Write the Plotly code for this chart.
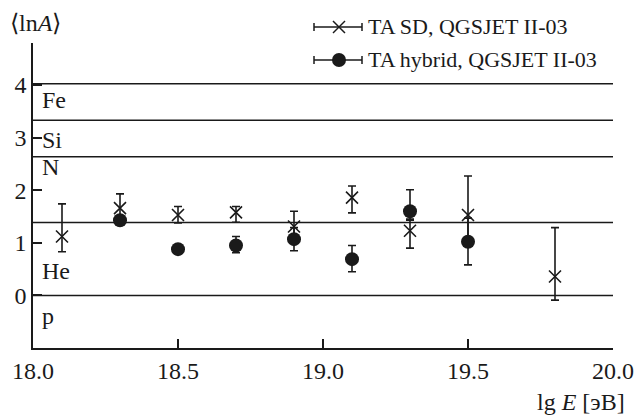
import math
import plotly.graph_objects as go

# ---- data ----
sd_x = [18.1, 18.3, 18.5, 18.7, 18.9, 19.1, 19.3, 19.5, 19.8]
sd_y = [1.12, 1.66, 1.53, 1.58, 1.31, 1.86, 1.23, 1.53, 0.36]
sd_plus = [0.62, 0.27, 0.16, 0.11, 0.29, 0.22, 0.22, 0.74, 0.93]
sd_minus = [0.29, 0.25, 0.15, 0.19, 0.25, 0.29, 0.33, 0.55, 0.45]

hy_x = [18.3, 18.5, 18.7, 18.9, 19.1, 19.3, 19.5]
hy_y = [1.43, 0.88, 0.95, 1.07, 0.69, 1.60, 1.02]
hy_plus = [0.05, 0.03, 0.17, 0.22, 0.26, 0.41, 0.45]
hy_minus = [0.05, 0.03, 0.14, 0.22, 0.24, 0.17, 0.44]

elements = ["p", "He", "N", "Si", "Fe"]
mass_numbers = [1, 4, 14, 28, 56]
label_y = [-0.40, 0.47, 2.44, 2.95, 3.72]

x_ticks = [18.0, 18.5, 19.0, 19.5, 20.0]
y_ticks = [0, 1, 2, 3, 4]

FONT = "Times New Roman"
INK = "#1a1a1a"

fig = go.Figure()

fig.add_trace(go.Scatter(
    x=sd_x, y=sd_y, mode="markers", name="TA SD, QGSJET II-03",
    marker=dict(symbol="x-thin", size=12, line=dict(width=1.6, color=INK), color=INK),
    error_y=dict(type="data", array=sd_plus, arrayminus=sd_minus, symmetric=False,
                 color=INK, thickness=1.6, width=4),
    showlegend=False,
))
fig.add_trace(go.Scatter(
    x=hy_x, y=hy_y, mode="markers", name="TA hybrid, QGSJET II-03",
    marker=dict(symbol="circle", size=14, color=INK, line=dict(width=0)),
    error_y=dict(type="data", array=hy_plus, arrayminus=hy_minus, symmetric=False,
                 color=INK, thickness=1.6, width=4),
    showlegend=False,
))

shapes = []
annotations = []
for el, a, ly in zip(elements, mass_numbers, label_y):
    lv = math.log(a)
    shapes.append(dict(type="line", xref="paper", yref="y", x0=0, x1=1, y0=lv, y1=lv,
                       line=dict(color=INK, width=1.5), layer="below"))
    annotations.append(dict(text=el, xref="x", yref="y", x=18.025, y=ly, xanchor="left",
                            yanchor="middle", showarrow=False,
                            font=dict(family=FONT, size=24, color=INK)))

# manual legend (pixel helpers)
L, T, W, H = 33, 43, 580, 305
def px(x):
    return (x - L) / W
def py(y):
    return (T + H - y) / H

def legend_row(yc, kind, text):
    x0, x1, xm = 314, 362, 339
    shapes.append(dict(type="line", xref="paper", yref="paper", x0=px(x0), x1=px(x1),
                       y0=py(yc), y1=py(yc), line=dict(color=INK, width=1.5)))
    for xe in (x0, x1):
        shapes.append(dict(type="line", xref="paper", yref="paper", x0=px(xe), x1=px(xe),
                           y0=py(yc - 4), y1=py(yc + 4), line=dict(color=INK, width=1.5)))
    if kind == "x":
        shapes.append(dict(type="line", xref="paper", yref="paper", x0=px(xm - 6), x1=px(xm + 6),
                           y0=py(yc - 6), y1=py(yc + 6), line=dict(color=INK, width=1.5)))
        shapes.append(dict(type="line", xref="paper", yref="paper", x0=px(xm - 6), x1=px(xm + 6),
                           y0=py(yc + 6), y1=py(yc - 6), line=dict(color=INK, width=1.5)))
    else:
        shapes.append(dict(type="circle", xref="paper", yref="paper", x0=px(xm - 7), x1=px(xm + 7),
                           y0=py(yc + 7), y1=py(yc - 7), fillcolor=INK, line=dict(color=INK, width=0)))
    annotations.append(dict(text=text, xref="paper", yref="paper", x=px(366), y=py(yc),
                            xanchor="left", yanchor="middle", showarrow=False,
                            font=dict(family=FONT, size=22, color=INK)))

legend_row(27, "x", "TA SD, QGSJET II-03")
legend_row(60, "o", "TA hybrid, QGSJET II-03")

annotations.append(dict(text="⟨ln<i>A</i>⟩", xref="paper", yref="paper", x=px(8), y=py(23),
                        xanchor="left", yanchor="middle", showarrow=False,
                        font=dict(family=FONT, size=24, color=INK)))
annotations.append(dict(text="lg <i>E</i> [эВ]", xref="paper", yref="paper", x=px(627), y=py(402),
                        xanchor="right", yanchor="middle", showarrow=False,
                        font=dict(family=FONT, size=24, color=INK)))

fig.update_layout(
    width=636, height=415,
    margin=dict(l=L, r=636 - L - W, t=T, b=415 - T - H, pad=0, autoexpand=False),
    paper_bgcolor="white", plot_bgcolor="white",
    font=dict(family=FONT, size=24, color=INK),
    shapes=shapes, annotations=annotations,
    xaxis=dict(range=[18.0, 20.0], tickvals=x_ticks, ticktext=[f"{v:.1f}" for v in x_ticks],
               ticks="inside", ticklen=9, tickwidth=1.5, tickcolor=INK, automargin=False,
               showline=True, linecolor=INK, linewidth=1.5, showgrid=False, zeroline=False,
               tickfont=dict(family=FONT, size=24, color=INK)),
    yaxis=dict(range=[-1.0, 4.8], tickvals=y_ticks, ticks="inside", ticklen=9, tickwidth=1.5,
               tickcolor=INK, showline=True, linecolor=INK, linewidth=1.5, showgrid=False,
               zeroline=False, automargin=False, tickfont=dict(family=FONT, size=24, color=INK)),
)

fig.write_html("out.html", config={"displayModeBar": False},
               post_script="document.body.style.margin='0';document.body.style.padding='0';")
